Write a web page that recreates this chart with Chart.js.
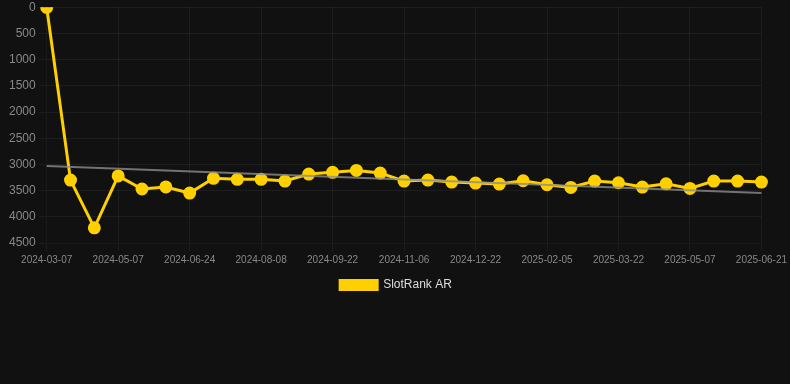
<!DOCTYPE html>
<html>
<head>
<meta charset="utf-8">
<script src="https://cdn.jsdelivr.net/npm/chart.js@4/dist/chart.umd.min.js"></script>
<style>
  html, body { margin: 0; padding: 0; background: #111111; overflow: hidden; }
  #wrap { width: 790px; height: 304px; margin-top: -3px; }
</style>
</head>
<body>
<div id="wrap"><canvas id="myChart"></canvas></div>
<script>
const labels = [
    '2024-03-07', '2024-03-28', '2024-04-17', '2024-05-07', '2024-05-23', '2024-06-08',
    '2024-06-24', '2024-07-09', '2024-07-24', '2024-08-08', '2024-08-23', '2024-09-07',
    '2024-09-22', '2024-10-07', '2024-10-22', '2024-11-06', '2024-11-21', '2024-12-06',
    '2024-12-22', '2025-01-06', '2025-01-21', '2025-02-05', '2025-02-20', '2025-03-07',
    '2025-03-22', '2025-04-06', '2025-04-21', '2025-05-07', '2025-05-22', '2025-06-06',
    '2025-06-21'
];

const rankValues = [
    5, 3300, 4210, 3220, 3470, 3430,
    3547, 3265, 3285, 3285, 3318, 3185,
    3152, 3115, 3165, 3318, 3300, 3337,
    3356, 3375, 3312, 3388, 3440, 3318,
    3350, 3432, 3370, 3458, 3318, 3318,
    3337
];

// trend line: only the two end values, gap spanned in between
const trendValues = [3032].concat(new Array(29).fill(null), [3547]);

const yTicks = [0, 500, 1000, 1500, 2000, 2500, 3000, 3500, 4000, 4500];

const ctx = document.getElementById('myChart').getContext('2d');

const myChart = new Chart(ctx, {
    type: 'line',
    data: {
        labels: labels,
        datasets: [{
            label: 'Trend',
            data: trendValues,
            borderColor: 'rgba(140, 140, 140, 0.8)',
            backgroundColor: 'rgba(140, 140, 140, 0.8)',
            borderWidth: 2,
            pointRadius: 0,
            spanGaps: true,
            order: 0
        }, {
            label: 'SlotRank AR',
            data: rankValues,
            borderColor: 'rgb(255, 208, 0)',
            backgroundColor: 'rgb(255, 208, 0)',
            borderWidth: 3,
            pointRadius: 5,
            pointHoverRadius: 6,
            tension: 0,
            order: 1
        }]
    },
    options: {
        responsive: true,
        maintainAspectRatio: false,
        animation: false,
        layout: {
            padding: { left: 6, right: 4 }
        },
        scales: {
            x: {
                grid: {
                    color: 'rgba(255, 255, 255, 0.05)'
                },
                ticks: {
                    color: '#888',
                    font: { size: 10 },
                    maxRotation: 0,
                    autoSkip: true
                }
            },
            y: {
                reverse: true,
                min: 0,
                max: 4500,
                afterBuildTicks: (axis) => {
                    axis.ticks = yTicks.map(v => ({ value: v }));
                },
                grid: {
                    color: 'rgba(255, 255, 255, 0.05)'
                },
                ticks: {
                    color: '#888',
                    font: { size: 12 },
                    callback: (v) => String(v)
                }
            }
        },
        plugins: {
            legend: {
                position: 'bottom',
                labels: {
                    color: '#ddd',
                    font: { size: 12 },
                    boxWidth: 37,
                    boxHeight: 9,
                    filter: (item) => item.text !== 'Trend'
                }
            },
            tooltip: { enabled: false }
        }
    }
});
</script>
</body>
</html>
